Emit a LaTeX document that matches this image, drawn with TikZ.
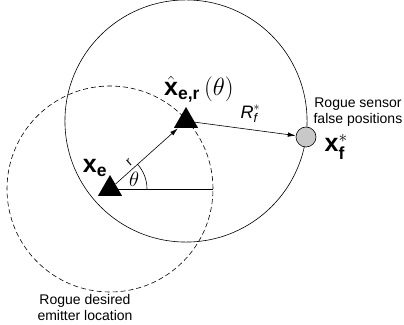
\documentclass[tikz,border=0pt]{standalone}
\usepackage{amsmath}
\usepackage{fontspec}
\setmainfont{Liberation Sans}
\usepackage{tikz}
\usetikzlibrary{arrows.meta,calc,angles,quotes,positioning,shapes.geometric}
\definecolor{sensorgray}{HTML}{C8C8C8}
\tikzset{
    emitter/.style={regular polygon, regular polygon sides=3, fill=black, minimum size=28pt, inner sep=0pt},
    labeltext/.style={font=\fontsize{14}{16}\selectfont, align=center, inner sep=0pt},
    biglabel/.style={font=\fontsize{25}{28}\selectfont, inner sep=0pt},
    thinarrow/.style={-{Latex[length=8pt,width=4.5pt]}, line width=0.6pt}
}

\begin{document}
\begin{tikzpicture}[x=1pt,y=1pt,line width=0.6pt]
    \useasboundingbox (0,0) rectangle (404,324);
    \coordinate (xepos) at (110,135);
    \coordinate (xerpos) at (186,203);
    \coordinate (xfpos) at (306,187);
    \coordinate (xe0) at ($(xepos)+(103,0)$);
    \draw[dash pattern=on 5pt off 3pt] (xepos) circle[radius=103];
    \draw let \p1 = ($(xfpos)-(xerpos)$), \n1 = {veclen(\x1,\y1)} in (xerpos) circle[radius=\n1];
    \draw (xepos) -- (xe0);
    \node[emitter] (xe) at (xepos) {};
    \node[emitter] (xer) at (xerpos) {};
    \node[circle, draw, fill=sensorgray, minimum size=20pt, inner sep=0pt] (xf) at (xfpos) {};
    \draw[thinarrow] (xe) -- (xer) node[pos=0.3, above, sloped, font=\fontsize{13}{13}\selectfont] {r};
    \draw[thinarrow] (xer) -- (xf) node[midway, above=3pt, xshift=5pt, font=\fontsize{18}{18}\selectfont] {$\text{\itshape R}_{\text{\itshape f}}^{*}$};
    \pic[draw, "{\fontsize{21}{21}\selectfont$\theta$}", angle radius=37pt, angle eccentricity=0.7] {angle=xe0--xepos--xerpos};
    \node[biglabel] (xelab) at ($(xe)+(-15,21)$) {$\text{\bfseries x}_{\text{\bfseries e}}$};
    \node[biglabel] (xerlab) at ($(xer)+(13,32)$) {$\hat{\text{\bfseries x}}_{\text{\bfseries e,r}}\,(\theta)$};
    \node[biglabel, right=8pt of xf, yshift=-10pt] (xflab) {$\text{\bfseries x}_{\text{\bfseries f}}^{*}$};
    \node[labeltext, above right=3pt and 0pt of xf] (sensorlab) {Rogue sensor\\false positions};
    \node[labeltext] (emitlab) at (85,17) {Rogue desired\\emitter location};
\end{tikzpicture}
\end{document}
